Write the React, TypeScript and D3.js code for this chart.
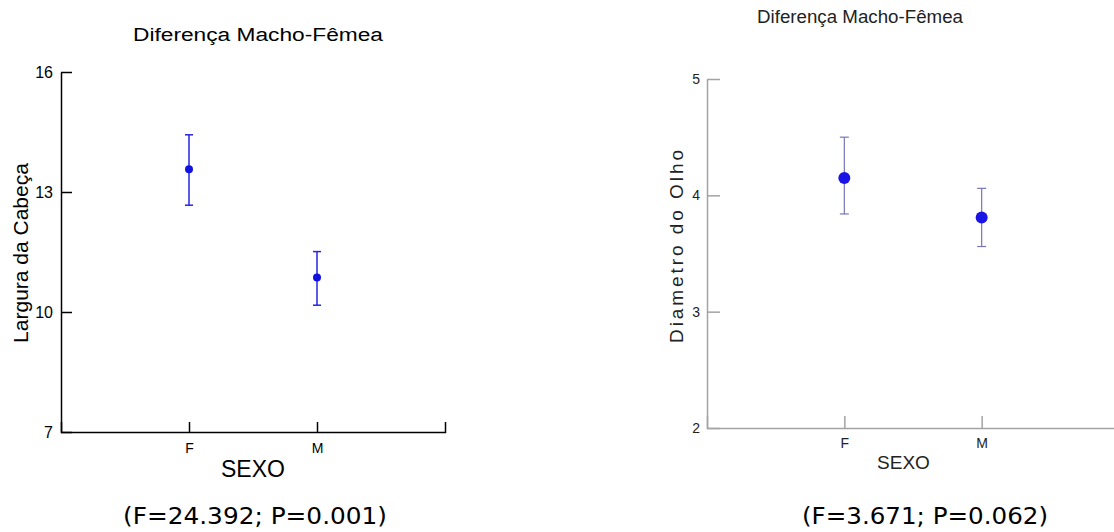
import React, { useEffect, useRef } from 'react';
import * as d3 from 'd3';

// groups on the x axis
const categories = ['F', 'M'];

// left panel: Largura da Cabeça (mean with lower / upper bar)
const headMean = [13.57, 10.86];
const headLower = [12.67, 10.17];
const headUpper = [14.43, 11.51];
const headTicks = [7, 10, 13, 16];

// right panel: Diametro do Olho
const eyeMean = [4.15, 3.81];
const eyeLower = [3.84, 3.56];
const eyeUpper = [4.5, 4.06];
const eyeTicks = [2, 3, 4, 5];

const titleText = 'Diferença Macho-Fêmea';
const xLabel = 'SEXO';
const headStats = '(F=24.392; P=0.001)';
const eyeStats = '(F=3.671; P=0.062)';

const sans = '"Liberation Sans", Arial, sans-serif';
const statsFont = '"DejaVu Sans", Verdana, sans-serif';

function drawPanel(svg, opts) {
    const {
        mean, lower, upper, ticks, yDomain, xRange, yRange,
        axisColor, axisWidth, barColor, barWidth, dotColor, dotR, capHalf,
        yTickLen, xTickLen, yPad, xPad, yTickSize, xTickSize, textColor,
    } = opts;

    const x = d3.scaleLinear().domain([0, 3]).range(xRange);
    const y = d3.scaleLinear().domain(yDomain).range(yRange);

    const yAxis = d3.axisLeft(y)
        .tickValues(ticks)
        .tickSize(-yTickLen)
        .tickSizeOuter(0)
        .tickPadding(yPad)
        .tickFormat(d3.format('d'));

    svg.append('g')
        .attr('transform', `translate(${xRange[0]},0)`)
        .attr('font-size', yTickSize)
        .call(yAxis)
        .call(g => g.select('.domain').attr('stroke', axisColor).attr('stroke-width', axisWidth))
        .call(g => g.selectAll('.tick line').attr('stroke', axisColor).attr('stroke-width', axisWidth))
        .call(g => g.selectAll('.tick text')
            .attr('fill', textColor)
            .attr('font-family', sans)
            .attr('font-size', yTickSize));

    const xAxis = d3.axisBottom(x)
        .tickValues([1, 2])
        .tickSize(-xTickLen)
        .tickSizeOuter(-xTickLen)
        .tickPadding(xPad)
        .tickFormat(d => categories[d - 1]);

    svg.append('g')
        .attr('transform', `translate(0,${yRange[0]})`)
        .call(xAxis)
        .call(g => g.select('.domain').attr('stroke', axisColor).attr('stroke-width', axisWidth))
        .call(g => g.selectAll('.tick line').attr('stroke', axisColor).attr('stroke-width', axisWidth))
        .call(g => g.selectAll('.tick text')
            .attr('fill', textColor)
            .attr('font-family', sans)
            .attr('font-size', xTickSize));

    const bars = svg.append('g')
        .attr('stroke', barColor)
        .attr('stroke-width', barWidth)
        .attr('fill', 'none');

    categories.forEach((c, i) => {
        const cx = x(i + 1);
        bars.append('line')
            .attr('x1', cx).attr('x2', cx)
            .attr('y1', y(lower[i])).attr('y2', y(upper[i]));
        bars.append('line')
            .attr('x1', cx - capHalf).attr('x2', cx + capHalf)
            .attr('y1', y(upper[i])).attr('y2', y(upper[i]));
        bars.append('line')
            .attr('x1', cx - capHalf).attr('x2', cx + capHalf)
            .attr('y1', y(lower[i])).attr('y2', y(lower[i]));
    });

    svg.append('g')
        .selectAll('circle')
        .data(mean)
        .join('circle')
        .attr('cx', (d, i) => x(i + 1))
        .attr('cy', d => y(d))
        .attr('r', dotR)
        .attr('fill', dotColor);
}

function addText(svg, t) {
    const el = svg.append('text')
        .attr('font-family', t.font || sans)
        .attr('font-size', t.size)
        .attr('fill', t.color || '#000')
        .attr('text-anchor', 'middle')
        .text(t.text);
    if (t.rotate) {
        el.attr('transform', `translate(${t.x},${t.y}) rotate(-90)`);
    } else {
        el.attr('x', t.x).attr('y', t.y);
    }
    if (t.length) {
        el.attr('textLength', t.length)
            .attr('lengthAdjust', t.adjust || 'spacingAndGlyphs');
    }
}

export default function App() {
    const ref = useRef(null);

    useEffect(() => {
        const svg = d3.select(ref.current);
        svg.selectAll('*').remove();

        drawPanel(svg, {
            mean: headMean, lower: headLower, upper: headUpper, ticks: headTicks,
            yDomain: [7, 16], xRange: [61, 445], yRange: [432, 72],
            axisColor: '#000', axisWidth: 1.5,
            barColor: '#2626e6', barWidth: 1.5, dotColor: '#1212e0', dotR: 4, capHalf: 4,
            yTickLen: 11, xTickLen: 10, yPad: 8, xPad: 11,
            yTickSize: 16, xTickSize: 14, textColor: '#000',
        });

        drawPanel(svg, {
            mean: eyeMean, lower: eyeLower, upper: eyeUpper, ticks: eyeTicks,
            yDomain: [2, 5], xRange: [707, 1119], yRange: [428, 79],
            axisColor: '#a3a3a3', axisWidth: 1.5,
            barColor: '#7676b8', barWidth: 1.2, dotColor: '#1a14e4', dotR: 6, capHalf: 4.5,
            yTickLen: 13, xTickLen: 12, yPad: 7, xPad: 10,
            yTickSize: 14, xTickSize: 14, textColor: '#222',
        });

        // left panel labels
        addText(svg, { text: titleText, x: 258, y: 41, size: 18, length: 250 });
        addText(svg, { text: 'Largura da Cabeça', x: 28, y: 253, size: 21, rotate: true });
        addText(svg, { text: xLabel, x: 253, y: 477, size: 23 });
        addText(svg, { text: headStats, x: 255, y: 524, size: 23, font: statsFont, length: 264 });

        // right panel labels
        addText(svg, { text: titleText, x: 860, y: 23, size: 17.5, length: 206, color: '#222' });
        addText(svg, { text: 'Diametro do Olho', x: 683, y: 246.5, size: 19, rotate: true,
            length: 193, adjust: 'spacing', color: '#222' });
        addText(svg, { text: xLabel, x: 903.5, y: 469, size: 19, color: '#222' });
        addText(svg, { text: eyeStats, x: 925, y: 524, size: 23, font: statsFont, length: 246 });
    }, []);

    return (
        <svg
            ref={ref}
            width={1114}
            height={532}
            style={{ position: 'absolute', left: 0, top: 0, background: '#fff' }}
        />
    );
}
